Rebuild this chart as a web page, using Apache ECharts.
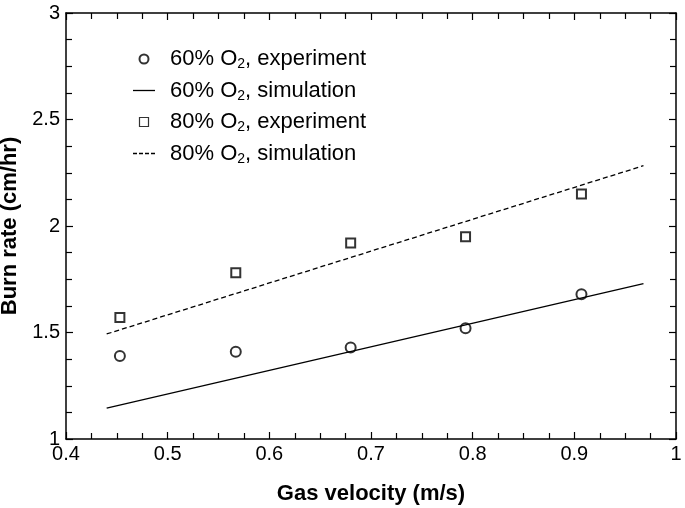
<!DOCTYPE html>
<html><head><meta charset="utf-8">
<script src="https://cdn.jsdelivr.net/npm/echarts@6/dist/echarts.min.js"></script>
<style>html,body{margin:0;padding:0;background:#fff}#c{width:685px;height:508px}</style>
</head><body><div id="c"></div>
<script>
const gasVelocity = [0.453, 0.567, 0.680, 0.793, 0.907];
const exp60 = [1.39, 1.41, 1.43, 1.52, 1.68];
const exp80 = [1.57, 1.78, 1.92, 1.95, 2.15];
const simX = [0.44, 0.968];
const sim60 = [1.145, 1.73];
const sim80 = [1.493, 2.283];
const names = ['60% O2, experiment', '60% O2, simulation', '80% O2, experiment', '80% O2, simulation'];

const font = 'Liberation Sans, Arial, sans-serif';
const chart = echarts.init(document.getElementById('c'));
const pair = (xs, ys) => xs.map((x, i) => [x, ys[i]]);
const axisCommon = {
  axisLine: {show: true, onZero: false, lineStyle: {color: '#000', width: 1.5}},
  axisTick: {show: true, inside: true, length: 7, lineStyle: {color: '#000', width: 1.2}},
  minorTick: {show: true, splitNumber: 4, length: 6, lineStyle: {color: '#000', width: 1.2}},
  splitLine: {show: false}
};
const solidIcon = 'path://M0,0h22v1.3h-22z';
const dashIcon = 'path://M0,0h4v1.3h-4zM6,0h4v1.3h-4zM12,0h4v1.3h-4zM18,0h4v1.3h-4z';
const lineIconStyle = {color: '#000', borderWidth: 0};
chart.setOption({
  animation: false,
  grid: {left: 66, right: 9, top: 13, bottom: 69, outerBoundsMode: 'none', containLabel: false},
  legend: {
    orient: 'vertical', left: 128, top: 43, itemGap: 8, itemWidth: 22, itemHeight: 9,
    data: [
      {name: names[0], icon: 'emptyCircle'},
      {name: names[1], icon: solidIcon, itemStyle: lineIconStyle},
      {name: names[2], icon: 'path://M0,0h8v8h-8z', itemStyle: {color: '#fff', borderColor: '#000', borderWidth: 1.2}},
      {name: names[3], icon: dashIcon, itemStyle: lineIconStyle}
    ],
    formatter: function (n) {
      const m = n.match(/^(\d+% O)2(, .*)$/);
      return '{g|}{a|' + m[1] + '}{s|2}{a|' + m[2] + '}';
    },
    textStyle: {
      rich: {
        g: {width: 10},
        a: {fontFamily: font, fontSize: 22, color: '#000'},
        s: {fontFamily: font, fontSize: 14, color: '#000', padding: [11, 0, 0, 0]}
      }
    }
  },
  xAxis: [
    Object.assign({}, axisCommon, {
      type: 'value', min: 0.4, max: 1, interval: 0.1, position: 'bottom',
      axisLabel: {fontFamily: font, fontSize: 20, color: '#000', margin: 5},
      name: 'Gas velocity (m/s)', nameLocation: 'middle', nameGap: 44,
      nameTextStyle: {fontFamily: font, fontSize: 22, fontWeight: 'bold', color: '#000'}
    }),
    Object.assign({}, axisCommon, {
      type: 'value', min: 0.4, max: 1, interval: 0.1, position: 'top',
      axisLabel: {show: false}
    })
  ],
  yAxis: [
    Object.assign({}, axisCommon, {
      type: 'value', min: 1, max: 3, interval: 0.5, position: 'left',
      axisLabel: {fontFamily: font, fontSize: 20, color: '#000', margin: 6},
      name: 'Burn rate (cm/hr)', nameLocation: 'middle', nameGap: 42,
      nameTextStyle: {fontFamily: font, fontSize: 22, fontWeight: 'bold', color: '#000'}
    }),
    Object.assign({}, axisCommon, {
      type: 'value', min: 1, max: 3, interval: 0.5, position: 'right',
      axisLabel: {show: false}
    })
  ],
  series: [
    {name: names[0], type: 'scatter', symbol: 'emptyCircle', symbolSize: 10,
     itemStyle: {color: '#000', borderColor: '#000', borderWidth: 1.2},
     data: pair(gasVelocity, exp60)},
    {name: names[1], type: 'line', symbol: 'none', showSymbol: false,
     lineStyle: {color: '#000', width: 1.3, type: 'solid'}, itemStyle: {color: '#000'},
     data: pair(simX, sim60)},
    {name: names[2], type: 'scatter', symbol: 'emptyRect', symbolSize: 9,
     itemStyle: {color: '#000', borderColor: '#000', borderWidth: 1.2},
     data: pair(gasVelocity, exp80)},
    {name: names[3], type: 'line', symbol: 'none', showSymbol: false,
     lineStyle: {color: '#000', width: 1.3, type: [5, 3]}, itemStyle: {color: '#000'},
     data: pair(simX, sim80)}
  ]
});
</script></body></html>
